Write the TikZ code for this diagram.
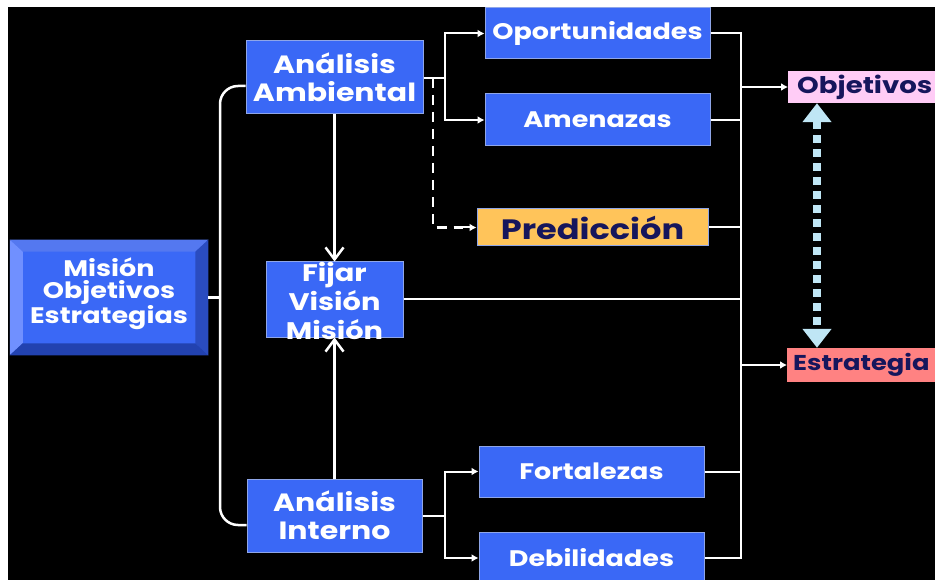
\documentclass[tikz,border=0pt]{standalone}
\usepackage{fontspec}
\setmainfont{Poppins}[FakeStretch=1.2]
\usetikzlibrary{arrows.meta,calc}
\definecolor{boxblue}{HTML}{3A68F6}
\definecolor{boxedge}{HTML}{8FA6E8}
\definecolor{navy}{HTML}{16165C}
\definecolor{predfill}{HTML}{FFC45A}
\definecolor{objfill}{HTML}{FFCCF6}
\definecolor{estfill}{HTML}{FF8282}
\definecolor{dblue}{HTML}{BFE6F5}
\definecolor{bevtop}{HTML}{5478F0}
\definecolor{bevleft}{HTML}{7090FF}
\definecolor{bevright}{HTML}{2A4CC0}
\definecolor{bevbot}{HTML}{2242B0}
\begin{document}
\begin{tikzpicture}[x=1pt,y=-1pt,
  bbox/.style={draw=boxedge, line width=1pt, fill=boxblue, text=white, align=center, inner sep=0pt, font=\bfseries\fontsize{25}{28}\selectfont},
  sbox/.style={bbox, font=\bfseries\fontsize{22.5}{26}\selectfont},
  conn/.style={white, line width=2.5pt},
  thinconn/.style={white, line width=2pt},
  bigtip/.style={-{Straight Barb[length=12pt,width=18pt]}},
  smalltip/.style={-{Latex[length=7pt,width=8pt]}},
  dashconn/.style={white, line width=2.5pt, dash pattern=on 10pt off 7pt}
]
\useasboundingbox (0,0) rectangle (935,580);
\fill[white] (0,0) rectangle (935,580);
\fill[black] (8,7) rectangle (935,580);

% beveled box
\node[fill=boxblue, draw=black, line width=0.5pt, minimum width=198pt, minimum height=115pt, inner sep=0pt] (mis) at (109,297.5) {};
\fill[bevtop] (mis.north west) -- (mis.north east) -- ($(mis.north east)+(-13,12)$) -- ($(mis.north west)+(13,12)$) -- cycle;
\fill[bevleft] (mis.north west) -- ($(mis.north west)+(13,12)$) -- ($(mis.south west)+(13,-12)$) -- (mis.south west) -- cycle;
\fill[bevright] (mis.north east) -- ($(mis.north east)+(-13,12)$) -- ($(mis.south east)+(-13,-12)$) -- (mis.south east) -- cycle;
\fill[bevbot] (mis.south west) -- ($(mis.south west)+(13,-12)$) -- ($(mis.south east)+(-13,-12)$) -- (mis.south east) -- cycle;
\node[text=white, align=center, inner sep=0pt, font=\bfseries\fontsize{22.5}{22}\selectfont] (mist) at (109,294) {Misión\\Objetivos\\Estrategias};

% blue boxes
\node[bbox, minimum width=177pt, minimum height=73pt] (amb) at (334.5,77.5) {Análisis\\Ambiental};
\node[bbox, minimum width=175pt, minimum height=73pt] (int) at (334.5,515.5) {Análisis\\Interno};
\node[bbox, minimum width=137pt, minimum height=75pt] (fij) at (334.5,299.5) {};
\node[text=white, align=center, inner sep=0pt, font=\bfseries\fontsize{24}{29}\selectfont] (fijt) at (334.5,301) {Fijar\\Visión\\Misión};

\node[sbox, minimum width=225pt, minimum height=51pt] (opo) at (597.5,33.5) {Oportunidades};
\node[sbox, minimum width=225pt, minimum height=52pt] (ame) at (597.5,120) {Amenazas};
\node[sbox, minimum width=225pt, minimum height=51pt] (fort) at (591.5,471.5) {Fortalezas};
\node[sbox, minimum width=225pt, minimum height=52pt] (deb) at (591.5,558) {Debilidades};

\node[draw=boxedge, line width=1pt, fill=predfill, text=navy, inner sep=0pt, minimum width=231pt, minimum height=37pt, font=\bfseries\fontsize{28}{30}\selectfont] (pre) at (592.5,227.5) {Predicción};

\node[fill=objfill, minimum height=32pt, inner xsep=9pt, inner ysep=0pt, anchor=west, text=navy, font=\bfseries\fontsize{23}{26}\selectfont, text width=160pt] (obj) at (788,87) {Objetivos};
\node[fill=estfill, minimum height=34pt, inner xsep=6pt, inner ysep=0pt, anchor=west, text=navy, font=\bfseries\fontsize{21.5}{26}\selectfont, text width=160pt] (est) at (787,365) {Estrategia};

% coordinates
\coordinate (bx) at (220,297.5);
\coordinate (a1) at (445,78);
\coordinate (d1) at (433,78);
\coordinate (i1) at (445,516);
\coordinate (cx) at (741,0);
\coordinate (dx) at (817,0);

% left bracket
\draw[conn, rounded corners=18pt] ($(amb.west)+(0,8.5)$) -| (bx) |- ($(int.west)+(0,9.5)$);
\draw[conn] (mis.east) -- (bx);

% vertical arrows into Fijar
\draw[conn, bigtip] (amb.south) -- (fij.north);
\draw[conn, bigtip] (int.north) -- (fij.south);

% Ambiental fan-out
\draw[thinconn] (amb.east |- a1) -- (a1);
\draw[thinconn, smalltip] (a1) |- (opo.west);
\draw[thinconn, smalltip] (a1) |- (ame.west);
\draw[dashconn] (d1) |- ($(pre.west)+(-14,0)$);
\draw[thinconn, smalltip] ($(pre.west)+(-14,0)$) -- (pre.west);

% Interno fan-out
\draw[thinconn] (int.east |- i1) -- (i1);
\draw[thinconn, smalltip] (i1) |- (fort.west);
\draw[thinconn, smalltip] (i1) |- (deb.west);

% right collector
\draw[thinconn] (opo.east) -| (deb.east -| cx) -- (deb.east);
\draw[thinconn] (ame.east) -- (ame.east -| cx);
\draw[thinconn] (pre.east) -- (pre.east -| cx);
\draw[thinconn] (fij.east) -- (fij.east -| cx);
\draw[thinconn] (fort.east) -- (fort.east -| cx);
\draw[thinconn, smalltip] (obj.west -| cx) -- (obj.west);
\draw[thinconn, smalltip] (est.west -| cx) -- (est.west);

% double dotted arrow
\draw[dblue, line width=8pt, dash pattern=on 8pt off 6pt, {Triangle[length=19pt,width=28pt]}-{Triangle[length=19pt,width=28pt]}] (obj.south -| dx) -- (est.north -| dx);
\end{tikzpicture}
\end{document}
